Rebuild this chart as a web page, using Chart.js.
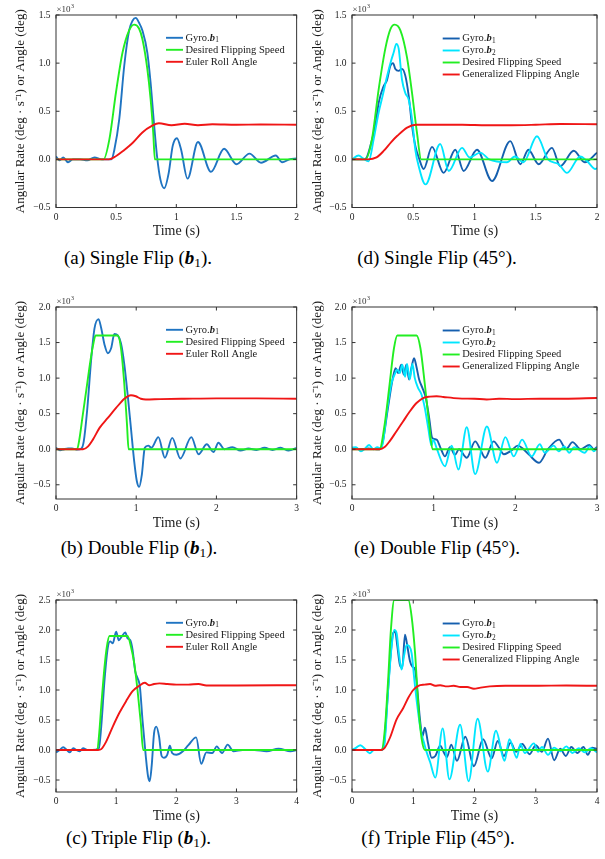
<!DOCTYPE html>
<html><head><meta charset="utf-8">
<script src="https://cdn.jsdelivr.net/npm/chart.js@4.4.1/dist/chart.umd.min.js"></script>
<style>
html,body{margin:0;padding:0;background:#fff;}
body{width:605px;height:859px;position:relative;overflow:hidden;}
canvas{position:absolute;}
.cap{position:absolute;text-align:center;font-family:"Liberation Serif","Times New Roman",serif;font-size:19px;line-height:19px;color:#000;white-space:nowrap;}
.cap .sb{font-size:0.7em;position:relative;top:0.25em;}
</style></head><body>
<div class="cap" style="left:0;width:276px;top:248px">(a) Single Flip (<b><i>b</i></b><span class="sb">1</span>).</div>
<div class="cap" style="left:287px;width:300px;top:248px">(d) Single Flip (45°).</div>
<div class="cap" style="left:0;width:278px;top:538px">(b) Double Flip (<b><i>b</i></b><span class="sb">1</span>).</div>
<div class="cap" style="left:287px;width:300px;top:538px">(e) Double Flip (45°).</div>
<div class="cap" style="left:0;width:277px;top:828px">(c) Triple Flip (<b><i>b</i></b><span class="sb">1</span>).</div>
<div class="cap" style="left:288px;width:300px;top:828px">(f) Triple Flip (45°).</div>
<script>
// ---- tick values ----
const ticksX2 = [0, 0.5, 1, 1.5, 2];
const ticksX3 = [0, 1, 2, 3];
const ticksX4 = [0, 1, 2, 3, 4];
const ticksY1 = [-0.5, 0, 0.5, 1, 1.5];
const ticksY2 = [-0.5, 0, 0.5, 1, 1.5, 2];
const ticksY3 = [-0.5, 0, 0.5, 1, 1.5, 2, 2.5];

// ---- series labels ----
const labelsLeft = ['Gyro.b1', 'Desired Flipping Speed', 'Euler Roll Angle'];
const labelsRight = ['Gyro.b1', 'Gyro.b2', 'Desired Flipping Speed', 'Generalized Flipping Angle'];

// ---- (a) Single flip b1 : [time s, value x10^3] ----
const gyroA = [[0,0.03],[0.03,-0.01],[0.06,0.02],[0.1,-0.03],[0.14,0.0],[0.2,0.0],[0.26,-0.01],[0.32,0.02],[0.38,0.0],[0.46,0.0],[0.485,0.1],[0.526,0.42],[0.567,0.97],[0.608,1.34],[0.636,1.44],[0.663,1.47],[0.69,1.42],[0.718,1.34],[0.759,1.11],[0.786,0.8],[0.814,0.38],[0.84,0.03],[0.868,-0.21],[0.9,-0.3],[0.937,-0.14],[0.97,0.14],[1.005,0.22],[1.04,0.1],[1.093,-0.2],[1.18,0.18],[1.288,-0.13],[1.397,0.11],[1.5,-0.05],[1.608,0.06],[1.704,-0.035],[1.827,0.04],[1.88,-0.03],[1.94,0.0],[2.0,0.01]];
const desA = [[0,0],[0.395,0],[0.444,0.21],[0.499,0.7],[0.553,1.11],[0.608,1.34],[0.649,1.4],[0.69,1.36],[0.718,1.25],[0.759,0.94],[0.786,0.63],[0.808,0.28],[0.822,0],[2,0]];
const eulerA = [[0,0],[0.44,0],[0.5,0.035],[0.56,0.09],[0.636,0.17],[0.718,0.28],[0.8,0.35],[0.855,0.375],[0.96,0.355],[1.07,0.37],[1.18,0.355],[1.3,0.365],[1.5,0.36],[1.7,0.362],[2,0.36]];

// ---- (b) Double flip b1 ----
const gyroB = [[0,0.02],[0.05,-0.015],[0.1,0.0],[0.15,0.01],[0.2,0.01],[0.27,-0.005],[0.317,0.01],[0.346,0.11],[0.387,0.53],[0.44,1.28],[0.48,1.7],[0.531,1.83],[0.564,1.7],[0.605,1.47],[0.646,1.35],[0.687,1.42],[0.728,1.62],[0.77,1.6],[0.81,1.49],[0.852,1.19],[0.893,0.77],[0.934,0.3],[0.975,-0.17],[1.008,-0.45],[1.037,-0.53],[1.07,-0.36],[1.107,0.02],[1.15,0.05],[1.19,0.02],[1.276,0.17],[1.358,-0.12],[1.449,0.16],[1.551,-0.13],[1.687,0.17],[1.778,-0.07],[1.88,0.07],[1.963,-0.04],[2.025,0.09],[2.1,0.0],[2.2,0.03],[2.3,-0.02],[2.4,0.01],[2.5,-0.01],[2.6,0.02],[2.7,-0.01],[2.8,0.02],[2.9,-0.02],[3.0,0.02]];
const desB = [[0,0],[0.263,0],[0.29,0.13],[0.33,0.45],[0.38,0.85],[0.43,1.25],[0.46,1.45],[0.494,1.6],[0.77,1.6],[0.81,1.42],[0.852,0.91],[0.885,0.35],[0.905,0],[3,0]];
const eulerB = [[0,0],[0.337,0],[0.4,0.04],[0.46,0.135],[0.543,0.3],[0.646,0.44],[0.749,0.58],[0.852,0.71],[0.934,0.76],[0.996,0.745],[1.058,0.71],[1.12,0.7],[1.3,0.705],[1.6,0.71],[2.0,0.715],[2.5,0.715],[3.0,0.71]];

// ---- (c) Triple flip b1 ----
const gyroC = [[0,-0.04],[0.06,0.0],[0.12,0.045],[0.18,0.0],[0.23,-0.04],[0.285,0.03],[0.34,0.0],[0.395,-0.02],[0.45,0.03],[0.52,0.0],[0.6,0.0],[0.713,0.03],[0.752,0.39],[0.807,1.17],[0.86,1.7],[0.9,1.81],[0.944,1.78],[1.0,1.97],[1.043,1.83],[1.092,1.89],[1.152,1.96],[1.19,1.86],[1.235,1.83],[1.273,1.67],[1.317,1.31],[1.355,1.2],[1.394,1.06],[1.438,0.5],[1.492,-0.1],[1.53,-0.44],[1.558,-0.52],[1.59,-0.27],[1.63,0.28],[1.668,0.39],[1.712,0.23],[1.756,-0.1],[1.794,-0.13],[1.849,-0.08],[1.893,0.07],[1.93,-0.05],[2.0,-0.08],[2.1,-0.03],[2.2,0.08],[2.33,0.21],[2.414,-0.23],[2.5,-0.04],[2.6,-0.05],[2.672,0.06],[2.76,-0.05],[2.853,0.09],[2.95,-0.02],[3.1,0.0],[3.3,0.0],[3.5,-0.02],[3.7,0.02],[3.9,-0.02],[4.0,0.0]];
const desC = [[0,0],[0.686,0],[0.72,0.3],[0.752,0.73],[0.807,1.39],[0.845,1.72],[0.889,1.9],[1.19,1.9],[1.246,1.72],[1.3,1.45],[1.355,1.0],[1.41,0.45],[1.449,0],[4,0]];
const eulerC = [[0,0],[0.7,0],[0.752,0.015],[0.834,0.14],[0.944,0.39],[1.054,0.62],[1.163,0.81],[1.273,0.98],[1.383,1.07],[1.476,1.12],[1.547,1.08],[1.63,1.1],[1.72,1.11],[1.85,1.1],[2.0,1.09],[2.2,1.09],[2.37,1.1],[2.5,1.075],[3.0,1.075],[4.0,1.08]];

// ---- (d) Single flip 45 deg ----
const gyro1D = [[0,0.0],[0.1,0.0],[0.12,0.02],[0.15,0.14],[0.19,0.35],[0.218,0.59],[0.258,0.76],[0.285,0.82],[0.313,0.97],[0.335,1.0],[0.354,0.94],[0.38,0.92],[0.408,0.94],[0.435,0.87],[0.463,0.66],[0.49,0.35],[0.517,0.14],[0.545,0.02],[0.585,-0.1],[0.653,0.13],[0.748,-0.14],[0.843,0.1],[0.911,-0.12],[1.02,0.1],[1.143,-0.225],[1.292,0.19],[1.374,-0.05],[1.44,0.1],[1.524,-0.05],[1.632,0.12],[1.7,-0.07],[1.81,0.09],[1.9,-0.03],[2.0,0.07]];
const gyro2D = [[0,0.0],[0.054,0.04],[0.09,0.01],[0.136,-0.02],[0.177,0.21],[0.218,0.49],[0.25,0.66],[0.28,0.83],[0.318,1.02],[0.34,1.11],[0.362,1.2],[0.381,1.15],[0.408,0.83],[0.435,0.69],[0.463,0.62],[0.49,0.42],[0.517,0.1],[0.544,-0.07],[0.6,-0.26],[0.72,0.16],[0.79,-0.12],[0.898,0.12],[0.96,0.02],[1.047,0.07],[1.12,0.0],[1.265,-0.03],[1.33,0.03],[1.4,-0.03],[1.51,0.24],[1.6,0.0],[1.687,-0.05],[1.755,-0.14],[1.863,0.03],[1.92,-0.02],[1.986,-0.1],[2.0,-0.09]];
const desD = [[0,0],[0.109,0],[0.163,0.21],[0.218,0.73],[0.272,1.15],[0.313,1.35],[0.348,1.4],[0.395,1.34],[0.449,1.06],[0.49,0.69],[0.53,0.28],[0.565,0],[2,0]];
const angD = [[0,0],[0.13,0],[0.2,0.02],[0.26,0.09],[0.32,0.18],[0.37,0.245],[0.45,0.33],[0.52,0.36],[0.7,0.36],[0.9,0.36],[1.1,0.355],[1.3,0.355],[1.5,0.36],[1.7,0.368],[2,0.365]];

// ---- (e) Double flip 45 deg ----
const gyro1E = [[0,0.02],[0.1,0.0],[0.2,0.01],[0.3,0.0],[0.345,0.0],[0.378,0.11],[0.44,0.58],[0.5,1.0],[0.534,1.14],[0.563,1.07],[0.604,1.19],[0.633,1.05],[0.666,1.19],[0.699,0.98],[0.727,1.14],[0.76,1.28],[0.789,1.16],[0.822,0.98],[0.863,0.86],[0.904,0.72],[0.945,0.44],[0.982,0.16],[1.036,0.135],[1.09,0.0],[1.138,-0.1],[1.2,0.03],[1.26,-0.08],[1.31,0.0],[1.405,-0.12],[1.508,0.11],[1.57,0.0],[1.632,-0.12],[1.734,0.11],[1.8,0.02],[1.86,-0.07],[1.95,-0.02],[2.03,0.05],[2.1,0.0],[2.17,-0.08],[2.29,-0.19],[2.4,0.0],[2.535,0.135],[2.62,0.0],[2.7,0.1],[2.8,0.0],[2.906,0.06],[2.96,0.0],[3.0,0.03]];
const gyro2E = [[0,0.02],[0.05,0.03],[0.11,-0.03],[0.16,0.01],[0.21,0.06],[0.26,0.0],[0.31,0.03],[0.35,0.01],[0.38,0.1],[0.427,0.53],[0.48,0.91],[0.522,1.05],[0.555,1.12],[0.585,1.07],[0.616,1.19],[0.65,1.02],[0.674,1.2],[0.707,0.98],[0.74,1.2],[0.769,1.0],[0.81,0.86],[0.851,0.77],[0.892,0.58],[0.933,0.3],[0.974,0.05],[0.995,0.135],[1.04,0.0],[1.138,-0.24],[1.22,0.05],[1.303,-0.285],[1.405,0.31],[1.508,-0.35],[1.652,0.32],[1.775,-0.19],[1.878,0.17],[1.98,-0.1],[2.083,0.135],[2.2,-0.1],[2.3,0.07],[2.36,-0.05],[2.47,0.05],[2.53,-0.03],[2.6,0.04],[2.66,-0.05],[2.72,0.03],[2.85,-0.05],[2.91,0.04],[2.96,-0.03],[3.0,0.02]];
const desE = [[0,0],[0.337,0],[0.4,0.35],[0.46,0.91],[0.514,1.42],[0.555,1.6],[0.79,1.6],[0.838,1.42],[0.892,0.91],[0.945,0.35],[0.986,0],[3,0]];
const angE = [[0,0],[0.337,0],[0.4,0.03],[0.46,0.11],[0.543,0.25],[0.625,0.39],[0.707,0.53],[0.79,0.65],[0.871,0.72],[0.954,0.74],[1.036,0.745],[1.118,0.735],[1.3,0.715],[1.5,0.71],[1.65,0.7],[1.8,0.71],[2.0,0.705],[2.3,0.71],[2.6,0.71],[3.0,0.72]];

// ---- (f) Triple flip 45 deg ----
const gyro1F = [[0,0],[0.2,0.0],[0.48,0.0],[0.52,0.07],[0.564,0.62],[0.62,1.45],[0.673,1.95],[0.706,1.97],[0.74,1.73],[0.782,1.42],[0.82,1.37],[0.865,1.92],[0.908,1.7],[0.947,1.48],[0.985,1.39],[1.03,1.34],[1.067,1.0],[1.11,0.51],[1.15,0.23],[1.19,0.37],[1.24,0.12],[1.3,-0.13],[1.36,-0.1],[1.44,0.07],[1.5,-0.04],[1.55,-0.12],[1.62,0.09],[1.714,-0.18],[1.85,0.22],[1.99,-0.27],[2.14,0.18],[2.28,-0.14],[2.38,0.15],[2.48,-0.1],[2.59,0.12],[2.68,-0.03],[2.78,0.1],[2.9,-0.07],[3.0,0.08],[3.1,-0.03],[3.2,0.19],[3.3,-0.17],[3.4,0.02],[3.49,-0.1],[3.58,0.05],[3.68,-0.05],[3.78,0.05],[3.85,-0.08],[3.92,0.04],[4.0,0.02]];
const gyro2F = [[0,0],[0.07,0.04],[0.137,0.08],[0.21,0.02],[0.29,-0.055],[0.36,0.0],[0.48,0.0],[0.53,0.1],[0.59,1.0],[0.646,1.72],[0.69,2.0],[0.728,1.95],[0.766,1.61],[0.81,1.34],[0.848,1.56],[0.892,1.75],[0.936,1.73],[0.974,1.61],[1.018,1.17],[1.067,0.73],[1.12,0.34],[1.176,0.12],[1.22,-0.04],[1.275,-0.2],[1.36,-0.46],[1.48,0.36],[1.59,-0.49],[1.765,0.42],[1.905,-0.52],[2.05,0.52],[2.217,-0.36],[2.35,0.32],[2.49,-0.18],[2.57,0.18],[2.69,-0.13],[2.75,0.1],[2.82,-0.05],[2.97,0.11],[3.04,-0.03],[3.1,0.05],[3.2,-0.08],[3.3,0.04],[3.4,-0.02],[3.5,0.06],[3.6,-0.05],[3.7,0.03],[3.8,-0.04],[3.9,0.03],[4.0,-0.04]];
const desF = [[0,0],[0.48,0],[0.536,0.34],[0.59,1.17],[0.635,2.0],[0.69,2.5],[0.92,2.5],[0.974,2.22],[1.03,1.61],[1.083,0.73],[1.138,0.18],[1.19,0],[4,0]];
const angF = [[0,0],[0.48,0],[0.536,0.04],[0.618,0.2],[0.728,0.51],[0.837,0.7],[0.919,0.87],[1.0,1.0],[1.083,1.07],[1.19,1.09],[1.275,1.1],[1.357,1.07],[1.44,1.08],[1.55,1.06],[1.66,1.07],[1.77,1.05],[1.88,1.05],[1.99,1.02],[2.1,1.04],[2.25,1.06],[2.5,1.07],[3.0,1.07],[3.5,1.075],[4.0,1.07]];

// ---- styling ----
const C_BLUE = '#1f74c2', C_BLUE_D = '#155fae', C_CYAN = '#00e6ff', C_GREEN = '#22ee22', C_RED = '#f01616';
const SERIF = '"Liberation Serif", "Times New Roman", serif';
Chart.defaults.font.family = SERIF;
Chart.defaults.color = '#1a1a1a';

function richText(ctx, x, y, label, size) {
  const m = /^(.*\.)b(\d)$/.exec(label);
  ctx.font = size + 'px ' + SERIF;
  if (!m) { ctx.fillText(label, x, y); return; }
  ctx.fillText(m[1], x, y); x += ctx.measureText(m[1]).width;
  ctx.font = 'italic bold ' + size + 'px ' + SERIF;
  ctx.fillText('b', x, y); x += ctx.measureText('b').width;
  ctx.font = (size * 0.7) + 'px ' + SERIF;
  ctx.fillText(m[2], x + 0.3, y + size * 0.25);
}

const deco = {
  id: 'deco',
  afterDatasetsDraw(chart, args, opts) {
    const {ctx, chartArea: ca, scales: {x, y}} = chart;
    ctx.save();
    ctx.strokeStyle = '#333';
    ctx.lineWidth = 1;
    ctx.strokeRect(ca.left, ca.top, ca.right - ca.left, ca.bottom - ca.top);
    const L = 3.5;
    ctx.beginPath();
    x.ticks.forEach(t => { const p = x.getPixelForValue(t.value); ctx.moveTo(p, ca.bottom); ctx.lineTo(p, ca.bottom - L); ctx.moveTo(p, ca.top); ctx.lineTo(p, ca.top + L); });
    y.ticks.forEach(t => { const p = y.getPixelForValue(t.value); ctx.moveTo(ca.left, p); ctx.lineTo(ca.left + L, p); ctx.moveTo(ca.right, p); ctx.lineTo(ca.right - L, p); });
    ctx.stroke();
    // x10^3 multiplier
    ctx.fillStyle = '#333';
    ctx.textAlign = 'left';
    ctx.textBaseline = 'alphabetic';
    ctx.font = '9px ' + SERIF;
    ctx.fillText('×10', ca.left + 0.5, ca.top - 3);
    const w = ctx.measureText('×10').width;
    ctx.font = '6px ' + SERIF;
    ctx.fillText('3', ca.left + 0.8 + w, ca.top - 7.5);
    // legend
    ctx.textBaseline = 'middle';
    chart.data.datasets.forEach((ds, i) => {
      const yy = ca.top + opts.dy + i * 12;
      const x0 = ca.left + opts.dx;
      ctx.strokeStyle = ds.borderColor;
      ctx.lineWidth = 1.9;
      ctx.beginPath(); ctx.moveTo(x0, yy); ctx.lineTo(x0 + 17, yy); ctx.stroke();
      ctx.fillStyle = '#1a1a1a';
      richText(ctx, x0 + 19.5, yy, ds.label, 10.5);
    });
    ctx.restore();
  }
};

const colL = {left: 0, width: 303, padRight: 3, yW: 56, yTitlePad: 14.5, dx: 110, dy: 22.8};
const colR = {left: 300, width: 305, padRight: 8, yW: 52, yTitlePad: 10.8, dx: 90.7, dy: 23.5};
const row1 = {top: 0, height: 240, padTop: 15, xH: 32.5};
const row2 = {top: 290, height: 242, padTop: 17, xH: 33};
const row3 = {top: 583, height: 242, padTop: 17, xH: 33};

const panels = [
  {col: colL, row: row1, xMax: 2, yMin: -0.5, yMax: 1.5, xt: ticksX2, yt: ticksY1, labels: labelsLeft, series: [gyroA, desA, eulerA], colors: [C_BLUE, C_GREEN, C_RED]},
  {col: colR, row: row1, xMax: 2, yMin: -0.5, yMax: 1.5, xt: ticksX2, yt: ticksY1, labels: labelsRight, series: [gyro1D, gyro2D, desD, angD], colors: [C_BLUE_D, C_CYAN, C_GREEN, C_RED]},
  {col: colL, row: row2, xMax: 3, yMin: -0.7, yMax: 2.0, xt: ticksX3, yt: ticksY2, labels: labelsLeft, series: [gyroB, desB, eulerB], colors: [C_BLUE, C_GREEN, C_RED]},
  {col: colR, row: row2, xMax: 3, yMin: -0.7, yMax: 2.0, xt: ticksX3, yt: ticksY2, labels: labelsRight, series: [gyro1E, gyro2E, desE, angE], colors: [C_BLUE_D, C_CYAN, C_GREEN, C_RED]},
  {col: colL, row: row3, xMax: 4, yMin: -0.7, yMax: 2.5, xt: ticksX4, yt: ticksY3, labels: labelsLeft, series: [gyroC, desC, eulerC], colors: [C_BLUE, C_GREEN, C_RED]},
  {col: colR, row: row3, xMax: 4, yMin: -0.7, yMax: 2.5, xt: ticksX4, yt: ticksY3, labels: labelsRight, series: [gyro1F, gyro2F, desF, angF], colors: [C_BLUE_D, C_CYAN, C_GREEN, C_RED]}
];

panels.forEach(p => {
  const cv = document.createElement('canvas');
  cv.width = p.col.width; cv.height = p.row.height;
  cv.style.left = p.col.left + 'px'; cv.style.top = p.row.top + 'px';
  cv.style.width = p.col.width + 'px'; cv.style.height = p.row.height + 'px';
  document.body.appendChild(cv);
  new Chart(cv, {
    type: 'line',
    data: {
      datasets: p.series.map((s, i) => ({
        label: p.labels[i],
        data: s.map(([t, v]) => ({x: t, y: v})),
        borderColor: p.colors[i],
        borderWidth: 1.9,
        pointRadius: 0,
        fill: false,
        cubicInterpolationMode: 'monotone',
        order: -i
      }))
    },
    options: {
      responsive: false,
      devicePixelRatio: 1,
      animation: false,
      events: [],
      layout: {padding: {top: p.row.padTop, right: p.col.padRight, left: 0, bottom: 0}},
      plugins: {legend: {display: false}, tooltip: {enabled: false}, deco: {dx: p.col.dx, dy: p.col.dy}},
      scales: {
        x: {
          type: 'linear', min: 0, max: p.xMax,
          grid: {display: false, drawTicks: false}, border: {display: false},
          afterBuildTicks: s => { s.ticks = p.xt.map(v => ({value: v})); },
          afterFit: s => { s.height = p.row.xH; },
          ticks: {padding: 4, maxRotation: 0, autoSkip: false, font: {size: 9.5}, callback: v => String(v)},
          title: {display: true, text: 'Time (s)', font: {size: 14, lineHeight: 1}, padding: {top: 0, bottom: 2}, color: '#1a1a1a'}
        },
        y: {
          type: 'linear', min: p.yMin, max: p.yMax,
          grid: {display: false, drawTicks: false}, border: {display: false},
          afterBuildTicks: s => { s.ticks = p.yt.map(v => ({value: v})); },
          afterFit: s => { s.width = p.col.yW; },
          ticks: {padding: 5.5, autoSkip: false, font: {size: 9.5}, callback: v => (v < 0 ? '−' : '') + Math.abs(v).toFixed(1)},
          title: {display: true, text: 'Angular Rate (deg · s⁻¹) or Angle (deg)', font: {size: 13, lineHeight: 1}, padding: {top: p.col.yTitlePad, bottom: 0}, color: '#1a1a1a'}
        }
      }
    },
    plugins: [deco]
  });
});
</script>
</body></html>
